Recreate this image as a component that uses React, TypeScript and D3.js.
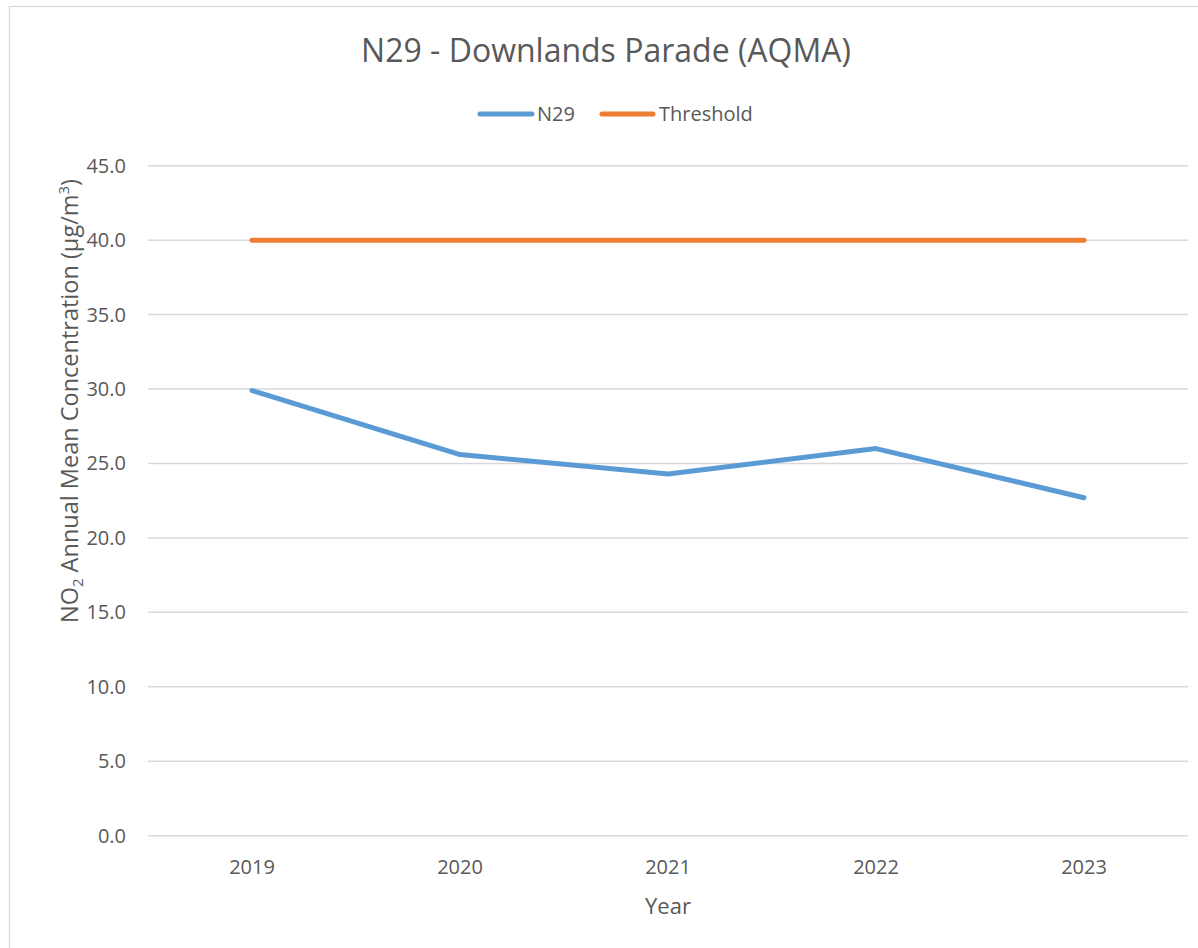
import React from "react";
import * as d3 from "d3";

const years = ["2019", "2020", "2021", "2022", "2023"];
const n29Values = [29.9, 25.6, 24.3, 26.0, 22.7];
const thresholdValues = [40, 40, 40, 40, 40];
const yTicks = [0, 5, 10, 15, 20, 25, 30, 35, 40, 45];

const W = 1198;
const H = 948;
const FONT = "'Open Sans', 'DejaVu Sans', sans-serif";
const TEXT = "#595959";

export default function App() {
  const left = 148;
  const right = 1188;
  const top = 165.7;
  const bottom = 835.7;

  const x = d3.scaleBand<string>().domain(years).range([left, right]).padding(0);
  const y = d3.scaleLinear().domain([0, 45]).range([bottom, top]);
  const cx = (d: string) => (x(d) as number) + x.bandwidth() / 2;

  const line = d3
    .line<number>()
    .x((_, i) => cx(years[i]))
    .y((v) => y(v));

  return (
    <svg
      width={W}
      height={H}
      style={{ position: "absolute", left: 0, top: 0, background: "#fff" }}
      fontFamily={FONT}
    >
      <rect x={9.5} y={6.5} width={1300} height={1000} fill="#fff" stroke="#d9d9d9" strokeWidth={1.3} />
      <text x={606} y={62} textAnchor="middle" fontSize={32} fill={TEXT}>
        N29 - Downlands Parade (AQMA)
      </text>

      {/* legend */}
      <g>
        <line x1={480} x2={532} y1={114} y2={114} stroke="#5b9bd5" strokeWidth={5} strokeLinecap="round" />
        <text x={537} y={121} fontSize={20} fill={TEXT}>N29</text>
        <line x1={602} x2={653} y1={114} y2={114} stroke="#ed7d31" strokeWidth={5} strokeLinecap="round" />
        <text x={659} y={121} fontSize={20} fill={TEXT}>Threshold</text>
      </g>

      {/* gridlines & y ticks */}
      {yTicks.map((t) => (
        <g key={t}>
          <line x1={left} x2={right} y1={y(t)} y2={y(t)} stroke="#d9d9d9" strokeWidth={1.5} />
          <text x={126} y={y(t) + 7} textAnchor="end" fontSize={20} fill={TEXT}>
            {t.toFixed(1)}
          </text>
        </g>
      ))}

      {/* x labels */}
      {years.map((yr) => (
        <text key={yr} x={cx(yr)} y={874} textAnchor="middle" fontSize={20} fill={TEXT}>
          {yr}
        </text>
      ))}

      <text x={668} y={914} textAnchor="middle" fontSize={22} fill={TEXT}>
        Year
      </text>

      <text
        transform={`translate(78, 401) rotate(-90)`}
        textAnchor="middle"
        fontSize={23.5}
        fill={TEXT}
      >
        NO<tspan fontSize={15} dy={5}>2</tspan>
        <tspan dy={-5}> Annual Mean Concentration (µg/m</tspan>
        <tspan fontSize={15} dy={-9}>3</tspan>
        <tspan dy={9}>)</tspan>
      </text>

      <path d={line(thresholdValues) || ""} fill="none" stroke="#ed7d31" strokeWidth={5} strokeLinecap="round" strokeLinejoin="round" />
      <path d={line(n29Values) || ""} fill="none" stroke="#5b9bd5" strokeWidth={5} strokeLinecap="round" strokeLinejoin="round" />
    </svg>
  );
}
